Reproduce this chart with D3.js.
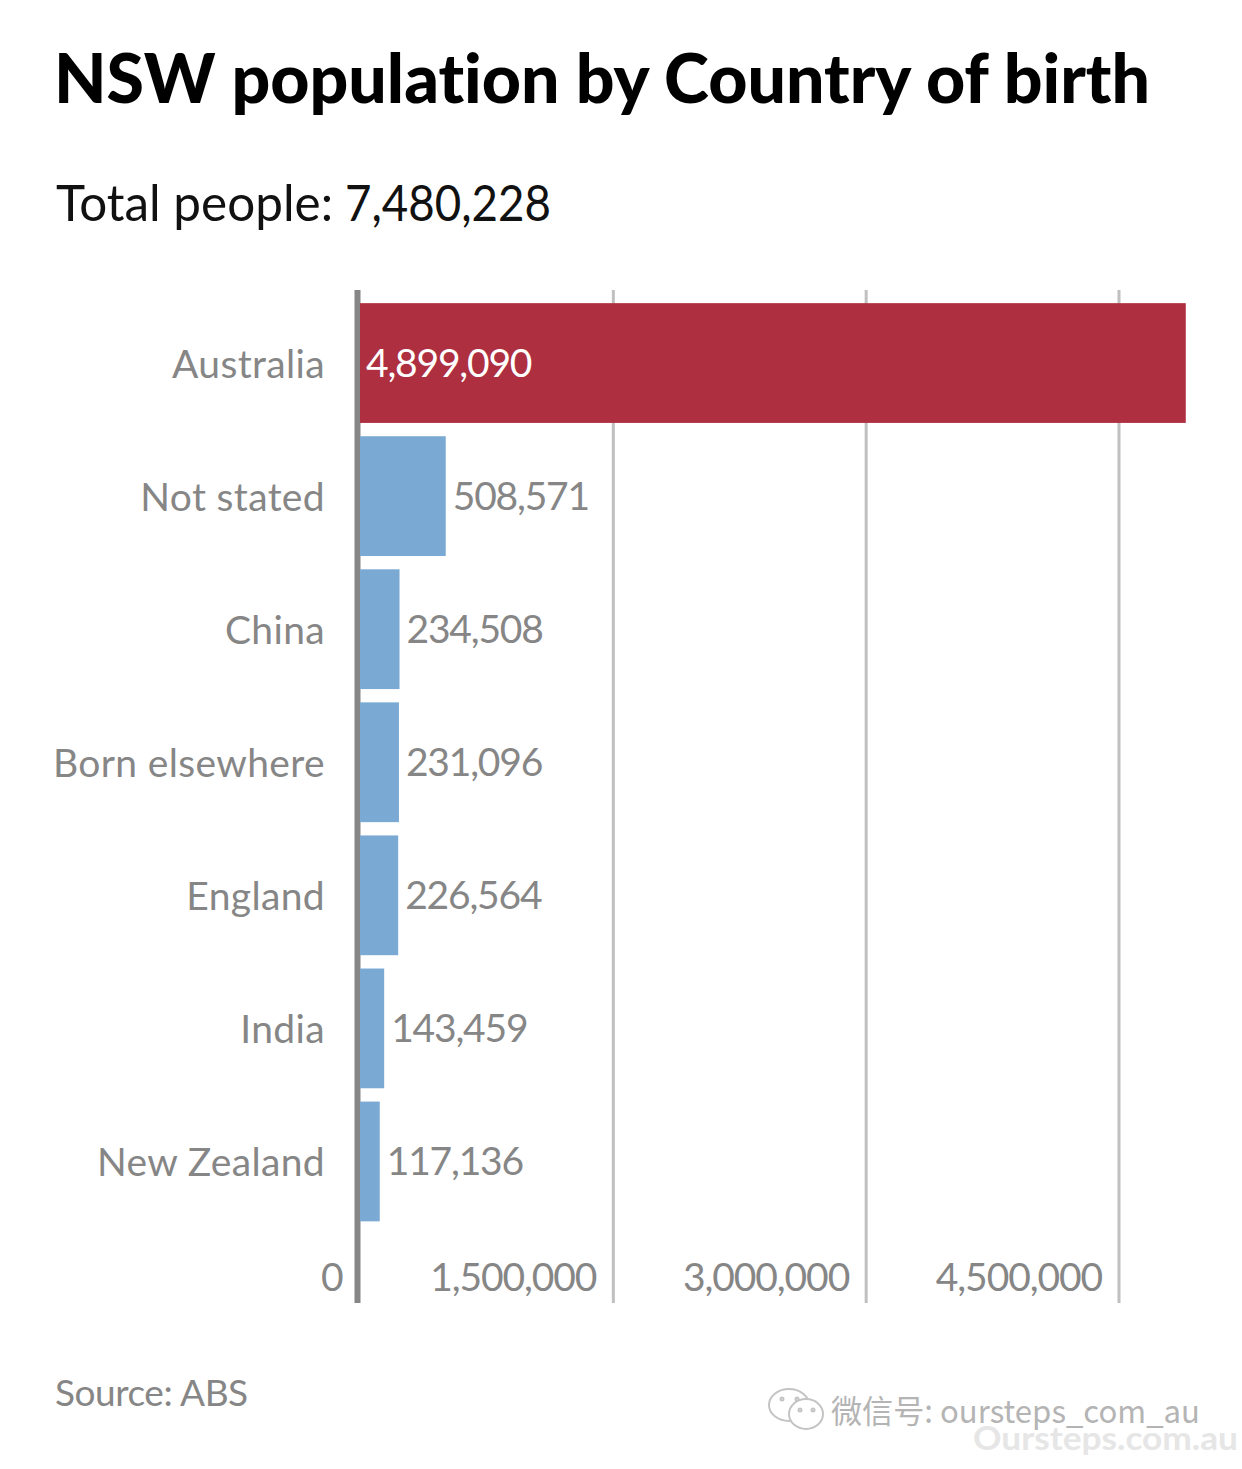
<!DOCTYPE html>
<html lang="en">
<head>
<meta charset="utf-8">
<title>NSW population by Country of birth</title>
<script src="https://cdn.jsdelivr.net/npm/d3@7"></script>
<style type="text/css">
	html, body { margin: 0; padding: 0; background: #fff; }
	svg { display: block; }
	text { font-family: Lato, "Noto Sans", sans-serif; font-variant-ligatures: none; }
	.axis path { display: none; }
</style>
</head>
<body>
<svg id="chart" width="1242" height="1469"></svg>
<script type="text/javascript">
	var countries = ["Australia", "Not stated", "China", "Born elsewhere", "England", "India", "New Zealand"];
	var people = [4899090, 508571, 234508, 231096, 226564, 143459, 117136];
	var xTicks = [0, 1500000, 3000000, 4500000];
	var titleText = "NSW population by Country of birth";
	var subtitleLabel = "Total people:";
	var subtitleValue = "7,480,228";
	var sourceText = "Source: ABS";

	var svg = d3.select("#chart");
	var grey = "#868686";

	var x = d3.scaleLinear().domain([0, 4500000]).range([360, 1118.5]);
	var y = d3.scaleBand().domain(countries).range([296.5, 1228]).paddingInner(0.1).paddingOuter(0.05);

	svg.append("text").attr("x", 54).attr("y", 103)
		.attr("font-size", 68).attr("font-weight", 900).attr("fill", "#000")
		.attr("textLength", 1096).attr("lengthAdjust", "spacingAndGlyphs")
		.text(titleText);

	var subtitle = svg.append("text").attr("y", 221).attr("font-size", 50).attr("fill", "#111");
	subtitle.append("tspan").attr("x", 56)
		.attr("textLength", 277).attr("lengthAdjust", "spacingAndGlyphs")
		.text(subtitleLabel);
	subtitle.append("tspan").attr("x", 345)
		.attr("textLength", 206).attr("lengthAdjust", "spacingAndGlyphs")
		.text(subtitleValue);

	// gridlines and the bottom labels, labels sit left of their line
	var xAxis = svg.append("g").attr("class", "axis")
		.attr("transform", "translate(0,1303)")
		.call(d3.axisBottom(x).tickValues(xTicks).tickFormat(d3.format(",")).tickSize(-1013));
	xAxis.selectAll("line").attr("stroke", "#c0c0c0").attr("stroke-width", 3);
	xAxis.selectAll("text")
		.attr("text-anchor", "end").attr("x", -17).attr("y", -12).attr("dy", 0)
		.attr("font-size", 39).attr("fill", grey).attr("letter-spacing", -1.1);
	xAxis.selectAll(".tick").filter(function (d) { return d === 0; }).select("line")
		.attr("stroke", grey).attr("stroke-width", 6).attr("x1", -3).attr("x2", -3);
	xAxis.selectAll(".tick").filter(function (d) { return d === 0; }).select("text")
		.attr("x", -18);

	svg.selectAll(".bar")
		.data(countries)
		.enter().append("rect")
		.attr("class", "bar")
		.attr("x", x(0))
		.attr("y", function (d) { return y(d); })
		.attr("width", function (d, i) { return x(people[i]) - x(0); })
		.attr("height", y.bandwidth())
		.attr("fill", function (d, i) { return i === 0 ? "#ae2f3f" : "#7aaad4"; });

	svg.selectAll(".value")
		.data(countries)
		.enter().append("text")
		.attr("class", "value")
		.attr("x", function (d, i) { return i === 0 ? x(0) + 6 : x(people[i]) + 7; })
		.attr("y", function (d) { return y(d) + y.bandwidth() / 2 + 14; })
		.attr("font-size", 39)
		.attr("letter-spacing", -1.2)
		.attr("fill", function (d, i) { return i === 0 ? "#fff" : grey; })
		.text(function (d, i) { return d3.format(",")(people[i]); });

	var yAxis = svg.append("g").attr("class", "axis")
		.attr("transform", "translate(325,0)")
		.call(d3.axisLeft(y).tickSize(0).tickPadding(0));
	yAxis.selectAll("text")
		.attr("font-size", 39).attr("fill", grey).attr("dy", 15).attr("letter-spacing", 0.35);

	svg.append("text").attr("x", 55).attr("y", 1406)
		.attr("font-size", 37).attr("fill", grey).attr("letter-spacing", -0.45).text(sourceText);

	// watermark bottom right
	var mark = svg.append("g").attr("fill", "none").attr("stroke", "#c4c4c4").attr("stroke-width", 2);
	mark.append("ellipse").attr("cx", 789).attr("cy", 1405).attr("rx", 20).attr("ry", 16);
	mark.append("ellipse").attr("cx", 806).attr("cy", 1414).attr("rx", 17).attr("ry", 15).attr("fill", "#fff");
	mark.append("circle").attr("cx", 782).attr("cy", 1399).attr("r", 1.5);
	mark.append("circle").attr("cx", 797).attr("cy", 1399).attr("r", 1.5);
	mark.append("circle").attr("cx", 800).attr("cy", 1410).attr("r", 1.5);
	mark.append("circle").attr("cx", 813).attr("cy", 1410).attr("r", 1.5);

	svg.append("text").attr("x", 831).attr("y", 1423)
		.attr("font-size", 32).attr("fill", "#b4b4b4")
		.attr("textLength", 369).attr("lengthAdjust", "spacingAndGlyphs")
		.style("font-family", "'Noto Sans CJK SC'")
		.text("微信号: oursteps_com_au");

	svg.append("text").attr("x", 973).attr("y", 1450)
		.attr("font-size", 33).attr("font-weight", 700).attr("fill", "#e6e6e6")
		.attr("textLength", 265).attr("lengthAdjust", "spacingAndGlyphs")
		.text("Oursteps.com.au");
</script>
</body>
</html>
